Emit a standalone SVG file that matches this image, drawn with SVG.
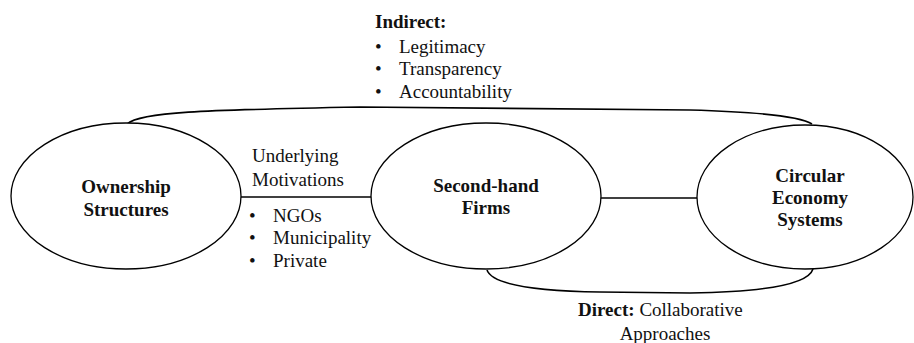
<svg xmlns="http://www.w3.org/2000/svg" width="914" height="343" viewBox="0 0 914 343">
  <style>
    .node { fill: #ffffff; stroke: #000000; stroke-width: 1.3; }
    .link { fill: none; stroke: #000000; stroke-width: 1.6; }
    text { font-family: "Liberation Serif", "Times New Roman", serif; font-size: 19px; fill: #111111; }
    .title { font-weight: bold; text-anchor: middle; }
    .b { font-weight: bold; }
  </style>
  <rect width="914" height="343" fill="#ffffff"/>

  <!-- connectors between the three concepts -->
  <g id="connectors">
    <path class="link" d="M127,124 C140,112 200,110 360,107 L690,110 C760,112 800,116 812,124"/>
    <line class="link" x1="241" y1="197" x2="372" y2="197"/>
    <line class="link" x1="601" y1="198" x2="697" y2="198"/>
    <path class="link" d="M487,270 C492,285 540,291 600,292 L690,293 C760,292 808,285 813,269"/>
  </g>

  <g id="ownership-structures">
    <ellipse class="node" cx="126" cy="196" rx="115" ry="73"/>
    <text class="title" x="126" y="193">Ownership</text>
    <text class="title" x="126" y="216">Structures</text>
  </g>

  <g id="second-hand-firms">
    <ellipse class="node" cx="486" cy="196" rx="115" ry="73"/>
    <text class="title" x="486" y="192">Second-hand</text>
    <text class="title" x="486" y="214">Firms</text>
  </g>

  <g id="circular-economy-systems">
    <ellipse class="node" cx="805" cy="197" rx="108" ry="72"/>
    <text class="title" x="810" y="182">Circular</text>
    <text class="title" x="810" y="204">Economy</text>
    <text class="title" x="810" y="226">Systems</text>
  </g>

  <!-- indirect link label -->
  <g id="label-indirect">
    <text class="b" x="375" y="28">Indirect:</text>
    <text x="375" y="53">•</text><text x="399" y="53">Legitimacy</text>
    <text x="375" y="75">•</text><text x="399" y="75">Transparency</text>
    <text x="375" y="98">•</text><text x="399" y="98">Accountability</text>
  </g>

  <!-- ownership to firms label -->
  <g id="label-motivations">
    <text x="252" y="162">Underlying</text>
    <text x="252" y="186">Motivations</text>
    <text x="249" y="222">•</text><text x="273" y="222">NGOs</text>
    <text x="249" y="244">•</text><text x="273" y="244">Municipality</text>
    <text x="249" y="267">•</text><text x="273" y="267">Private</text>
  </g>

  <!-- direct link label -->
  <g id="label-direct">
    <text x="578" y="316"><tspan class="b">Direct:</tspan> Collaborative</text>
    <text x="665" y="340" text-anchor="middle">Approaches</text>
  </g>
</svg>
